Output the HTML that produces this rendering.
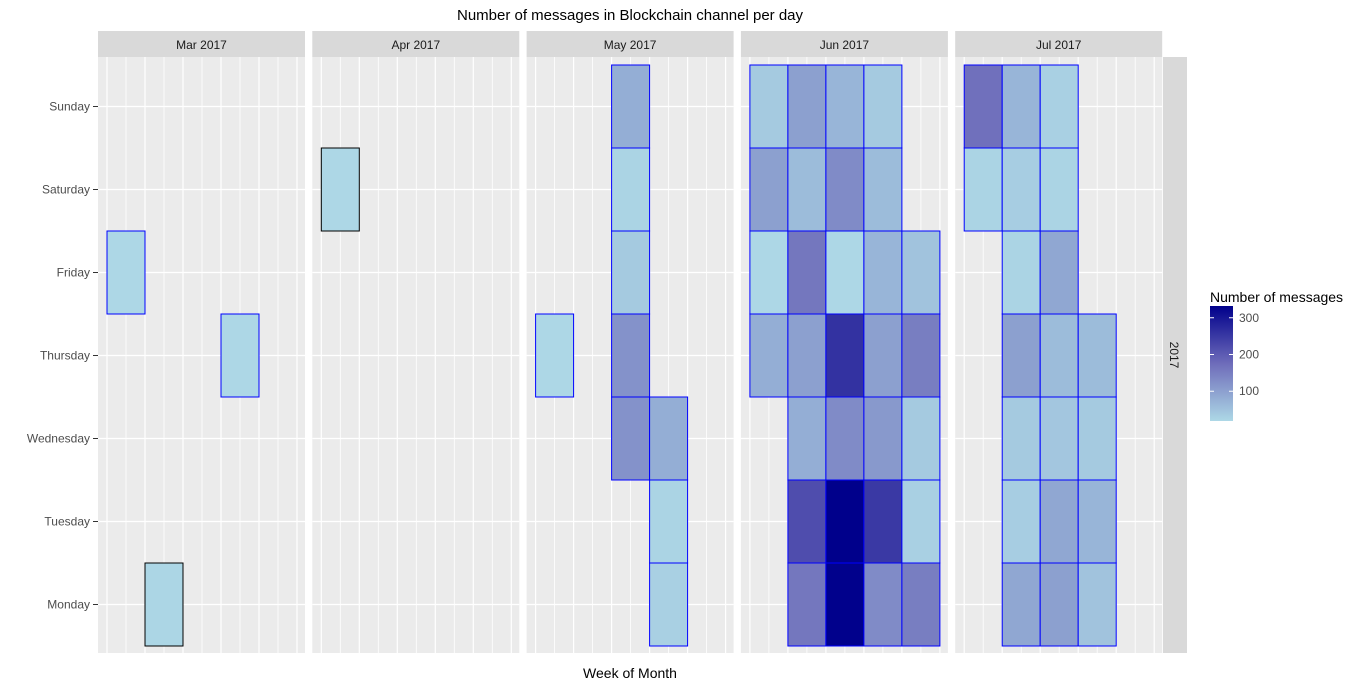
<!DOCTYPE html>
<html><head><meta charset="utf-8"><style>
body{margin:0;background:#fff;font-family:"Liberation Sans",Arial,sans-serif;}
svg text{font-family:"Liberation Sans",Arial,sans-serif;}
</style></head><body>
<svg id="chart" width="1366" height="685" xmlns="http://www.w3.org/2000/svg">
<defs><linearGradient id="lg" x1="0" y1="1" x2="0" y2="0">
<stop offset="0" stop-color="#ADD8E6"/><stop offset="0.5" stop-color="#6E6CBA"/><stop offset="1" stop-color="#00008B"/></linearGradient></defs>
<text x="630" y="20" text-anchor="middle" font-size="15" fill="#000">Number of messages in Blockchain channel per day</text>
<text x="630" y="678" text-anchor="middle" font-size="14" fill="#000">Week of Month</text>
<g id="panels"></g>
<rect x="1163" y="57" width="24" height="596" fill="#D9D9D9"/>
<text transform="translate(1170,355) rotate(90)" text-anchor="middle" font-size="12" fill="#1a1a1a">2017</text>
<g>
<text x="1210" y="302" font-size="14" fill="#000">Number of messages</text>
<rect x="1210" y="306" width="23" height="115" fill="url(#lg)"/>
<g id="legticks"></g>
</g>
</svg>
<script>
const months = ["Mar 2017","Apr 2017","May 2017","Jun 2017","Jul 2017"];
const days = ["Sunday","Saturday","Friday","Thursday","Wednesday","Tuesday","Monday"];
const tileMonth = [0,0,0, 1, 2,2,2,2,2,2,2,2,2,
 3,3,3,3, 3,3,3,3, 3,3,3,3,3, 3,3,3,3,3, 3,3,3,3, 3,3,3,3, 3,3,3,3,
 4,4,4, 4,4,4, 4,4, 4,4,4, 4,4,4, 4,4,4, 4,4,4];
const tileWeek = [0,1,3, 0, 0,2,2,2,2,2,3,3,3,
 0,1,2,3, 0,1,2,3, 0,1,2,3,4, 0,1,2,3,4, 1,2,3,4, 1,2,3,4, 1,2,3,4,
 0,1,2, 0,1,2, 1,2, 1,2,3, 1,2,3, 1,2,3, 1,2,3];
const tileDay = ["Friday","Monday","Thursday","Saturday","Thursday","Sunday","Saturday","Friday","Thursday","Wednesday","Wednesday","Tuesday","Monday",
 "Sunday","Sunday","Sunday","Sunday","Saturday","Saturday","Saturday","Saturday",
 "Friday","Friday","Friday","Friday","Friday","Thursday","Thursday","Thursday","Thursday","Thursday",
 "Wednesday","Wednesday","Wednesday","Wednesday","Tuesday","Tuesday","Tuesday","Tuesday","Monday","Monday","Monday","Monday",
 "Sunday","Sunday","Sunday","Saturday","Saturday","Saturday","Friday","Friday",
 "Thursday","Thursday","Thursday","Wednesday","Wednesday","Wednesday","Tuesday","Tuesday","Tuesday","Monday","Monday","Monday"];
const tileValue = [20,22,20, 20, 20,80,25,40,120,120,80,25,30,
 40,100,70,40, 100,60,130,60, 20,160,20,70,50, 80,100,260,100,150, 80,130,110,40, 220,332,250,30, 160,330,130,150,
 170,70,30, 25,35,25, 25,90, 100,60,60, 40,45,40, 35,90,70, 90,100,50];
const blackBorder = [1,3];
const legendTicks = [100,200,300];

const NS="http://www.w3.org/2000/svg";
const vmin=19, vmax=332;
const panelX = m => 98 + m*214.3;
const panelW = 207;
const xScale = (m,w) => panelX(m) + 9 + w*38;
const yScale = d => 65 + days.indexOf(d)*83;
function color(v){
  let t=(v-vmin)/(vmax-vmin); t=Math.max(0,Math.min(1,t));
  const a=[173,216,230], mid=[110,108,186], b=[0,0,139];
  let c;
  if(t<0.5){const s=t/0.5;c=a.map((x,i)=>Math.round(x+(mid[i]-x)*s));}
  else{const s=(t-0.5)/0.5;c=mid.map((x,i)=>Math.round(x+(b[i]-x)*s));}
  return `rgb(${c.join(",")})`;
}
function mk(tag,attrs,parent){const e=document.createElementNS(NS,tag);for(const k in attrs)e.setAttribute(k,attrs[k]);parent.appendChild(e);return e;}
const g=document.getElementById("panels");
months.forEach((mn,m)=>{
  const px=panelX(m);
  const s=mk("rect",{x:px,y:31,width:panelW,height:26,fill:"#D9D9D9"},g);
  
  
  const st=mk("text",{x:px+panelW/2,y:49,"text-anchor":"middle","font-size":12,fill:"#1a1a1a"},g);
  st.textContent=mn;
  
  
  const bg=mk("rect",{x:px,y:57,width:panelW,height:596,fill:"#EBEBEB"},g);
  
  
  for(let k=0;k<11;k++){
    const lx=px+9+k*19;
    const l=mk("line",{x1:lx,x2:lx,y1:57,y2:653,stroke:"#fff","stroke-width":k%2?0.8:1.2},g);
    
    
  }
  days.forEach(d=>{
    const cy=yScale(d)+41.5;
    const l=mk("line",{x1:px,x2:px+panelW,y1:cy,y2:cy,stroke:"#fff","stroke-width":1.2},g);
    
    
  });
});
days.forEach(d=>{
  const cy=yScale(d)+41.5;
  const t=mk("text",{x:90,y:cy+4,"text-anchor":"end","font-size":12,fill:"#4d4d4d"},g);
  t.textContent=d;
  
  
  const tk=mk("line",{x1:93,x2:98,y1:cy,y2:cy,stroke:"#333"},g);
  
  
});
tileValue.forEach((v,i)=>{
  const r=mk("rect",{x:xScale(tileMonth[i],tileWeek[i]),y:yScale(tileDay[i]),width:38,height:83,fill:color(v),
    stroke:blackBorder.includes(i)?"#000":"#0000FF","stroke-width":1}, g);
  
  
});
const lt=document.getElementById("legticks");
legendTicks.forEach(v=>{
  const y=421-(v-vmin)/(vmax-vmin)*115;
  const a=mk("line",{x1:1210,x2:1214,y1:y,y2:y,stroke:"#fff"},lt);
  
  
  const b=mk("line",{x1:1229,x2:1233,y1:y,y2:y,stroke:"#fff"},lt);
  
  
  const t=mk("text",{x:1239,y:y+4,"font-size":12,fill:"#4d4d4d"},lt);
  t.textContent=v;
  
  
});
</script>
</body></html>
